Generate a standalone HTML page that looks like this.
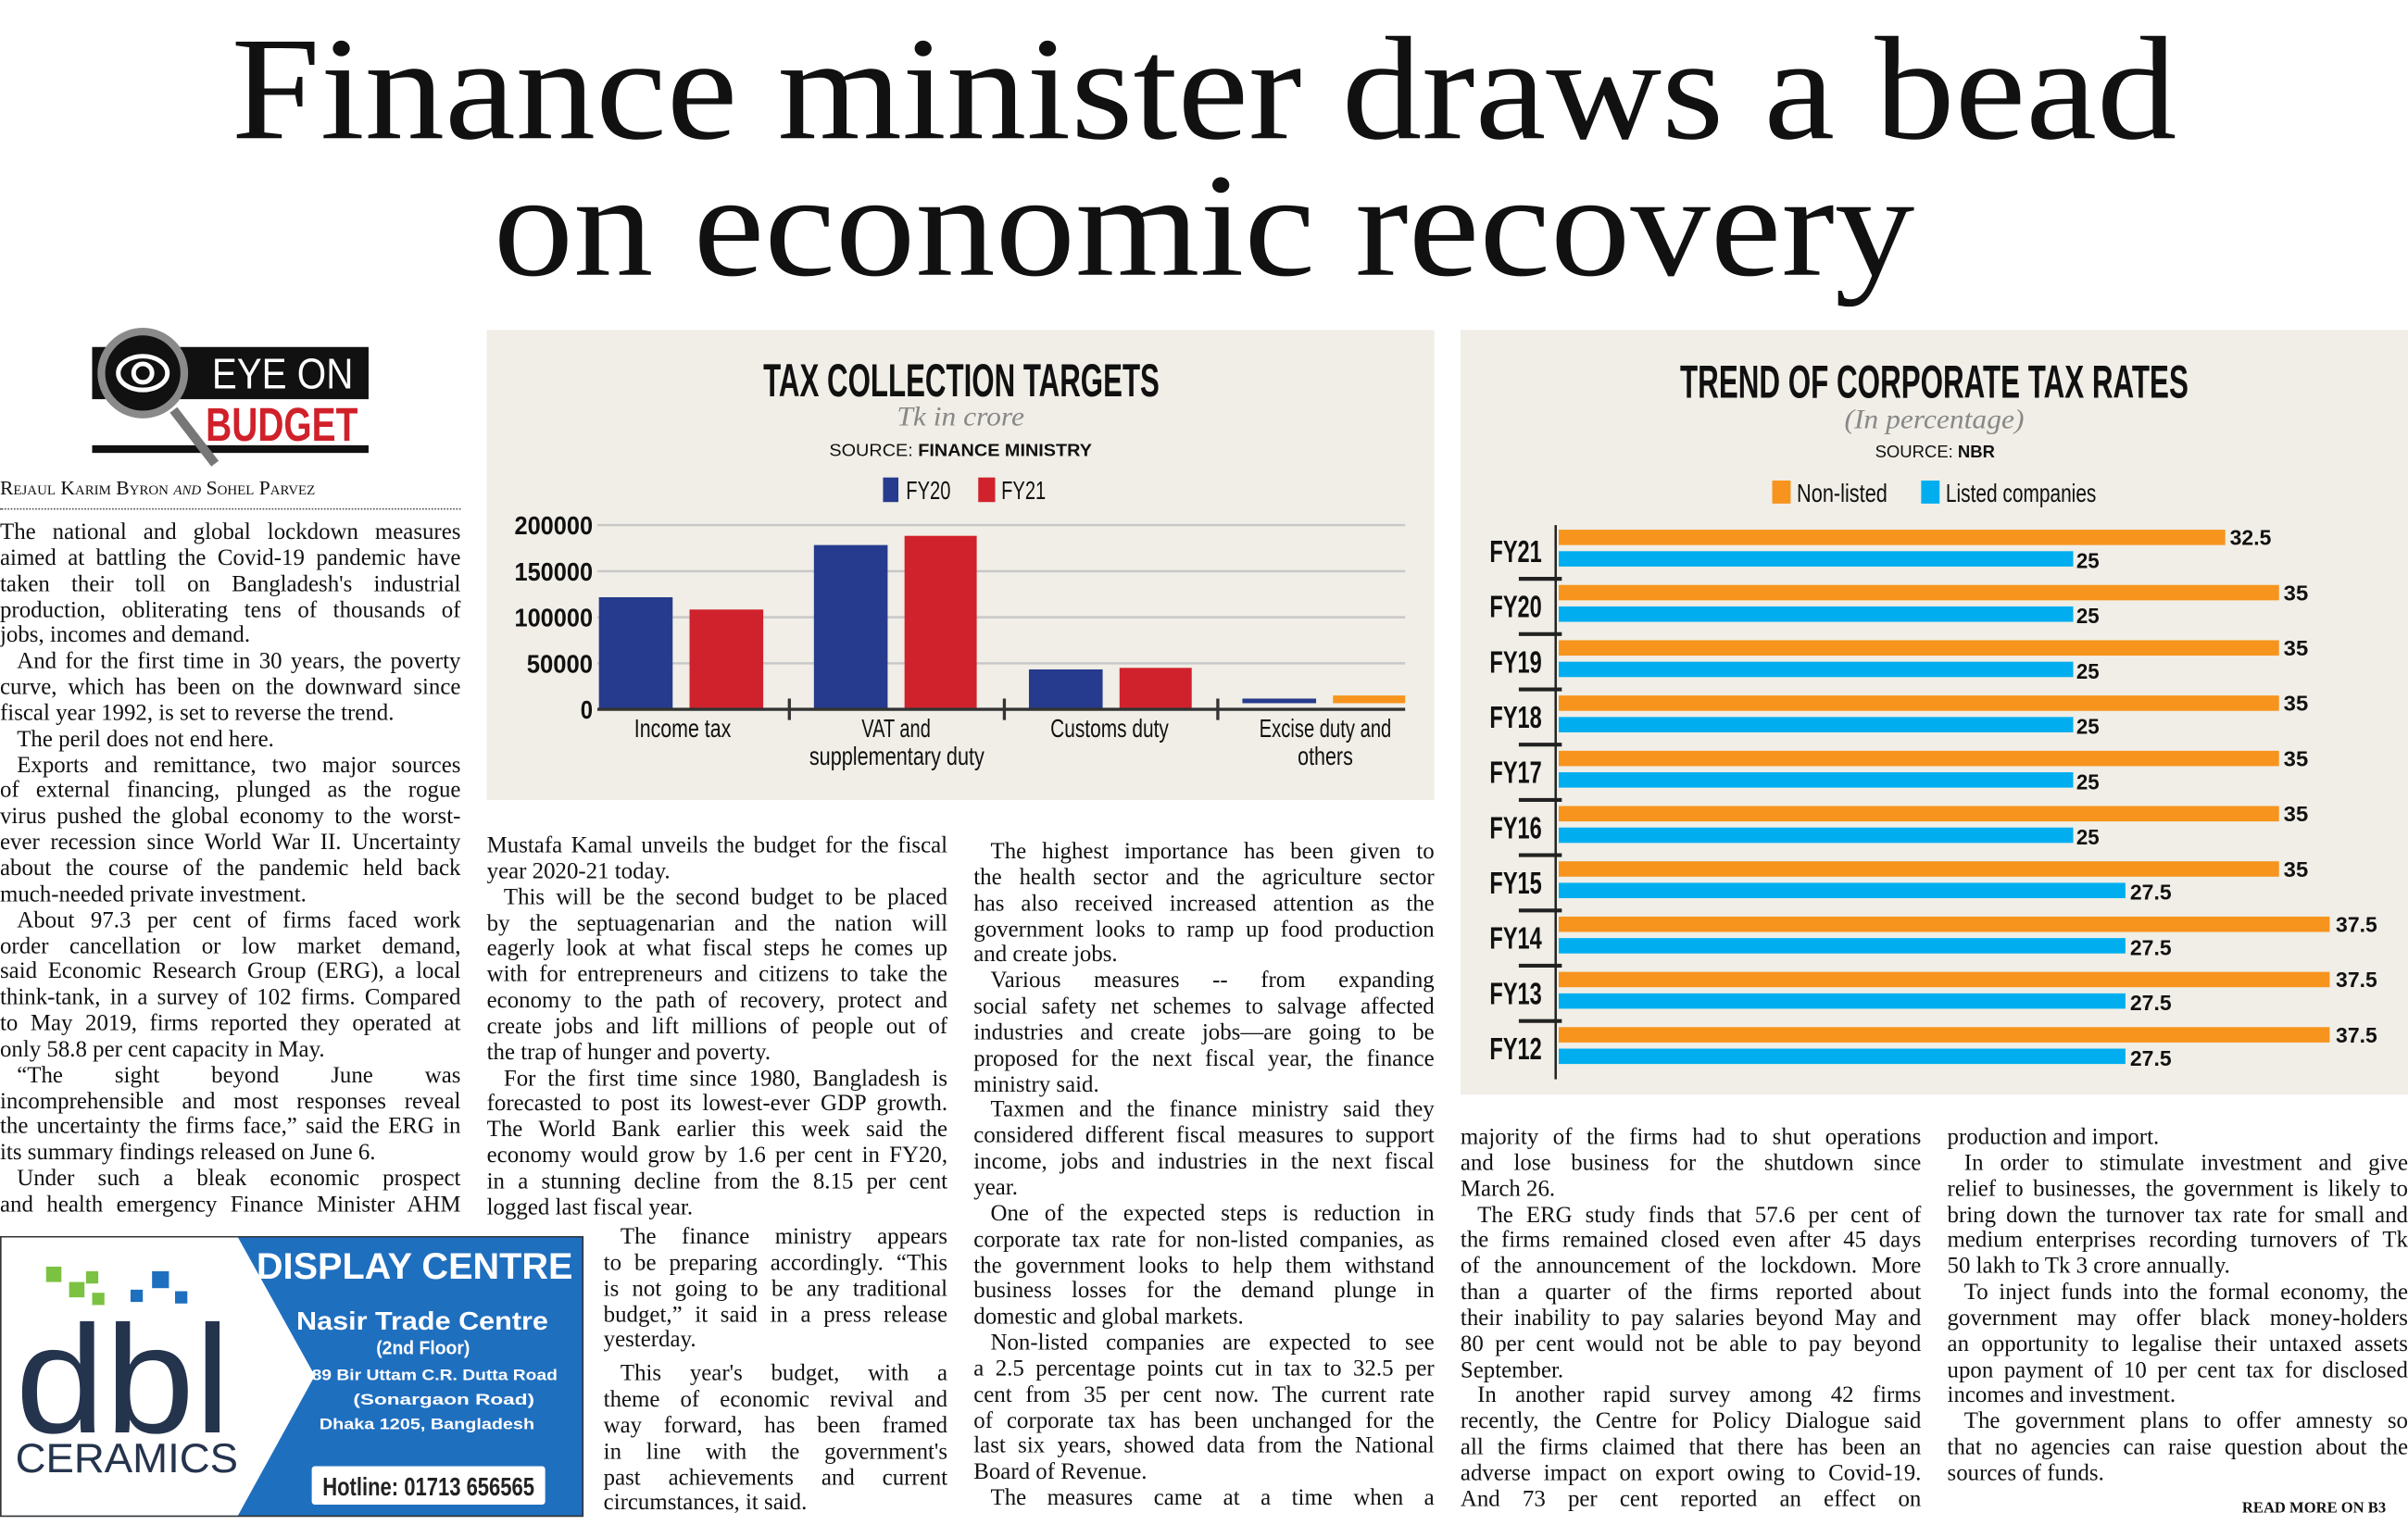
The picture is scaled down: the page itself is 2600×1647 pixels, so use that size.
<!DOCTYPE html>
<html><head><meta charset="utf-8"><style>
html,body{margin:0;padding:0;background:#fff;width:2600px;height:1647px;overflow:hidden}
#w{position:absolute;left:0;top:0;width:1568px;height:993px;transform:scale(1.65816);transform-origin:0 0;font-family:"Liberation Serif",serif;color:#111}
.a{position:absolute}
.hl{position:absolute;left:0;width:1568px;text-align:center;font-family:"Liberation Serif",serif;font-size:96px;line-height:96px;white-space:nowrap;transform:scaleX(1.085);transform-origin:784px 0}
.col{position:absolute;font-size:15px}
.col div{height:16.85px;line-height:16.85px;text-align:justify;text-align-last:justify;overflow:hidden;white-space:normal}
.col div.l{text-align-last:left}
.col div.i{padding-left:11px}
.panel{position:absolute;background:#f0eee6}
svg text{font-family:"Liberation Sans",sans-serif}
</style></head><body><div id="w">
<div class="hl" style="top:10px">Finance minister draws a bead</div>
<div class="hl" style="top:99px">on economic recovery</div>

<!-- logo -->
<svg class="a" style="left:55px;top:210px" width="200" height="95">
<rect x="5" y="16" width="180" height="34" fill="#111"/>
<rect x="5" y="80" width="180" height="5" fill="#111"/>
<text x="83" y="43" font-size="28" fill="#fff" textLength="92" lengthAdjust="spacingAndGlyphs">EYE ON</text>
<text x="79" y="77" font-size="31" font-weight="bold" fill="#d0202a" textLength="99" lengthAdjust="spacingAndGlyphs">BUDGET</text>
<line x1="58" y1="57" x2="85" y2="92" stroke="#777" stroke-width="6"/>
<circle cx="38" cy="33" r="27" fill="#111" stroke="#8a8a8a" stroke-width="5"/>
<ellipse cx="38" cy="33" rx="16" ry="11" fill="none" stroke="#fff" stroke-width="3"/>
<circle cx="38" cy="33" r="6" fill="none" stroke="#fff" stroke-width="3"/>
</svg>

<div class="a" style="left:0;top:310px;font-size:13px;font-variant:small-caps;white-space:nowrap">Rejaul Karim Byron <i>and</i> Sohel Parvez</div>
<div class="a" style="left:0;top:331px;width:300px;border-top:1.5px dotted #555"></div>

<div class="col" style="left:0;top:339px;width:300px">
<div>The national and global lockdown measures</div>
<div>aimed at battling the Covid-19 pandemic have</div>
<div>taken their toll on Bangladesh's industrial</div>
<div>production, obliterating tens of thousands of</div>
<div class="l">jobs, incomes and demand.</div>
<div class="i">And for the first time in 30 years, the poverty</div>
<div>curve, which has been on the downward since</div>
<div class="l">fiscal year 1992, is set to reverse the trend.</div>
<div class="i l">The peril does not end here.</div>
<div class="i">Exports and remittance, two major sources</div>
<div>of external financing, plunged as the rogue</div>
<div>virus pushed the global economy to the worst-</div>
<div>ever recession since World War II. Uncertainty</div>
<div>about the course of the pandemic held back</div>
<div class="l">much-needed private investment.</div>
<div class="i">About 97.3 per cent of firms faced work</div>
<div>order cancellation or low market demand,</div>
<div>said Economic Research Group (ERG), a local</div>
<div>think-tank, in a survey of 102 firms. Compared</div>
<div>to May 2019, firms reported they operated at</div>
<div class="l">only 58.8 per cent capacity in May.</div>
<div class="i">“The sight beyond June was</div>
<div>incomprehensible and most responses reveal</div>
<div>the uncertainty the firms face,” said the ERG in</div>
<div class="l">its summary findings released on June 6.</div>
<div class="i">Under such a bleak economic prospect</div>
<div>and health emergency Finance Minister AHM</div>
</div>

<!-- ad -->
<svg class="a" style="left:0;top:805px" width="381" height="184">
<rect x="0.5" y="0.5" width="379" height="182" fill="#1f6fbf" stroke="#333"/>
<polygon points="1,1 155,1 205,91 155,182 1,182" fill="#fff"/>
<rect x="30" y="20" width="10" height="10" fill="#7cc242"/><rect x="45" y="30" width="10" height="10" fill="#7cc242"/>
<rect x="56" y="23" width="8" height="8" fill="#7cc242"/><rect x="60" y="37" width="8" height="8" fill="#7cc242"/>
<rect x="85" y="35" width="8" height="8" fill="#1f6fbf"/><rect x="99" y="23" width="11" height="11" fill="#1f6fbf"/><rect x="114" y="36" width="8" height="8" fill="#1f6fbf"/>
<text x="10" y="128" font-size="100" fill="#25344d" textLength="140" lengthAdjust="spacingAndGlyphs">dbl</text>
<text x="10" y="154" font-size="27" fill="#25344d" textLength="145" lengthAdjust="spacingAndGlyphs">CERAMICS</text>
<text x="167" y="28" font-size="24" font-weight="bold" fill="#fff" textLength="206" lengthAdjust="spacingAndGlyphs">DISPLAY CENTRE</text>
<text x="193" y="61" font-size="17" font-weight="bold" fill="#fff" textLength="164" lengthAdjust="spacingAndGlyphs">Nasir Trade Centre</text>
<text x="245" y="77" font-size="12" font-weight="bold" fill="#fff" textLength="61" lengthAdjust="spacingAndGlyphs">(2nd Floor)</text>
<text x="203" y="94" font-size="10" font-weight="bold" fill="#fff" textLength="160" lengthAdjust="spacingAndGlyphs">89 Bir Uttam C.R. Dutta Road</text>
<text x="230" y="110" font-size="10" font-weight="bold" fill="#fff" textLength="118" lengthAdjust="spacingAndGlyphs">(Sonargaon Road)</text>
<text x="208" y="126" font-size="10" font-weight="bold" fill="#fff" textLength="140" lengthAdjust="spacingAndGlyphs">Dhaka 1205, Bangladesh</text>
<rect x="203" y="150" width="152" height="25" rx="2" fill="#fff"/>
<text x="210" y="169" font-size="17" font-weight="bold" fill="#222" textLength="138" lengthAdjust="spacingAndGlyphs">Hotline: 01713 656565</text>
</svg>

<!-- chart 1 -->
<div class="panel" style="left:317px;top:215px;width:617px;height:306px"></div>
<svg class="a" style="left:317px;top:215px" width="617" height="306">
<text x="180" y="43" font-size="30" font-weight="bold" fill="#111" textLength="258" lengthAdjust="spacingAndGlyphs">TAX COLLECTION TARGETS</text>
<text x="267" y="62" font-size="18" font-style="italic" fill="#888" style="font-family:'Liberation Serif',serif" textLength="83" lengthAdjust="spacingAndGlyphs">Tk in crore</text>
<text x="223" y="82" font-size="11" fill="#111" textLength="171" lengthAdjust="spacingAndGlyphs">SOURCE: <tspan font-weight="bold">FINANCE MINISTRY</tspan></text>
<rect x="258" y="96" width="10" height="16" fill="#263b8e"/>
<text x="273" y="110" font-size="17" fill="#111" textLength="29" lengthAdjust="spacingAndGlyphs">FY20</text>
<rect x="320" y="96" width="11" height="16" fill="#d0222d"/>
<text x="335" y="110" font-size="17" fill="#111" textLength="29" lengthAdjust="spacingAndGlyphs">FY21</text>
<g stroke="#c8c8c8" stroke-width="1.5"><line x1="72" x2="598" y1="127" y2="127"/><line x1="72" x2="598" y1="157" y2="157"/><line x1="72" x2="598" y1="187" y2="187"/><line x1="72" x2="598" y1="217" y2="217"/></g>
<g font-weight="bold" font-size="17" fill="#111">
<text x="18" y="133" textLength="51" lengthAdjust="spacingAndGlyphs">200000</text>
<text x="18" y="163" textLength="51" lengthAdjust="spacingAndGlyphs">150000</text>
<text x="18" y="193" textLength="51" lengthAdjust="spacingAndGlyphs">100000</text>
<text x="26" y="223" textLength="43" lengthAdjust="spacingAndGlyphs">50000</text>
<text x="61" y="253" textLength="8" lengthAdjust="spacingAndGlyphs">0</text></g>
<rect x="73" y="174" width="48" height="73" fill="#263b8e"/><rect x="132" y="182" width="48" height="65" fill="#d0222d"/>
<rect x="213" y="140" width="48" height="107" fill="#263b8e"/><rect x="272" y="134" width="47" height="113" fill="#d0222d"/>
<rect x="353" y="221" width="48" height="26" fill="#263b8e"/><rect x="412" y="220" width="47" height="27" fill="#d0222d"/>
<rect x="492" y="240" width="48" height="3" fill="#263b8e"/><rect x="551" y="238" width="47" height="5" fill="#f7941d"/>
<line x1="72" x2="598" y1="247" y2="247" stroke="#333" stroke-width="2"/>
<g stroke="#333" stroke-width="2"><line x1="197" x2="197" y1="240" y2="254"/><line x1="337" x2="337" y1="240" y2="254"/><line x1="476" x2="476" y1="240" y2="254"/></g>
<g font-size="17" fill="#111">
<text x="96" y="265" textLength="63" lengthAdjust="spacingAndGlyphs">Income tax</text>
<text x="244" y="265" textLength="45" lengthAdjust="spacingAndGlyphs">VAT and</text>
<text x="210" y="283" textLength="114" lengthAdjust="spacingAndGlyphs">supplementary duty</text>
<text x="367" y="265" textLength="77" lengthAdjust="spacingAndGlyphs">Customs duty</text>
<text x="503" y="265" textLength="86" lengthAdjust="spacingAndGlyphs">Excise duty and</text>
<text x="528" y="283" textLength="36" lengthAdjust="spacingAndGlyphs">others</text></g>
</svg>

<!-- chart 2 -->
<div class="panel" style="left:951px;top:215px;width:617px;height:498px"></div>
<svg class="a" style="left:951px;top:215px" width="617" height="498">
<text x="143" y="44" font-size="30" font-weight="bold" fill="#111" textLength="331" lengthAdjust="spacingAndGlyphs">TREND OF CORPORATE TAX RATES</text>
<text x="250" y="64" font-size="18" font-style="italic" fill="#888" style="font-family:'Liberation Serif',serif" textLength="117" lengthAdjust="spacingAndGlyphs">(In percentage)</text>
<text x="270" y="83" font-size="11" fill="#111" textLength="78" lengthAdjust="spacingAndGlyphs">SOURCE: <tspan font-weight="bold">NBR</tspan></text>
<rect x="203" y="98" width="12" height="15" fill="#f7941d"/>
<text x="219" y="112" font-size="17" fill="#111" textLength="59" lengthAdjust="spacingAndGlyphs">Non-listed</text>
<rect x="300" y="98" width="12" height="15" fill="#00aeef"/>
<text x="316" y="112" font-size="17" fill="#111" textLength="98" lengthAdjust="spacingAndGlyphs">Listed companies</text>
<line x1="62" x2="62" y1="127" y2="488" stroke="#222" stroke-width="1.5"/>
<g font-weight="bold" font-size="14" fill="#111">
<rect x="64" y="130" width="434" height="10" fill="#f7941d"/><rect x="64" y="144" width="335" height="10" fill="#00aeef"/><text x="501" y="140" textLength="27" lengthAdjust="spacingAndGlyphs">32.5</text><text x="401" y="155" textLength="15" lengthAdjust="spacingAndGlyphs">25</text>
<rect x="64" y="166" width="469" height="10" fill="#f7941d"/><rect x="64" y="180" width="335" height="10" fill="#00aeef"/><text x="536" y="176" textLength="16" lengthAdjust="spacingAndGlyphs">35</text><text x="401" y="191" textLength="15" lengthAdjust="spacingAndGlyphs">25</text>
<rect x="64" y="202" width="469" height="10" fill="#f7941d"/><rect x="64" y="216" width="335" height="10" fill="#00aeef"/><text x="536" y="212" textLength="16" lengthAdjust="spacingAndGlyphs">35</text><text x="401" y="227" textLength="15" lengthAdjust="spacingAndGlyphs">25</text>
<rect x="64" y="238" width="469" height="10" fill="#f7941d"/><rect x="64" y="252" width="335" height="10" fill="#00aeef"/><text x="536" y="248" textLength="16" lengthAdjust="spacingAndGlyphs">35</text><text x="401" y="263" textLength="15" lengthAdjust="spacingAndGlyphs">25</text>
<rect x="64" y="274" width="469" height="10" fill="#f7941d"/><rect x="64" y="288" width="335" height="10" fill="#00aeef"/><text x="536" y="284" textLength="16" lengthAdjust="spacingAndGlyphs">35</text><text x="401" y="299" textLength="15" lengthAdjust="spacingAndGlyphs">25</text>
<rect x="64" y="310" width="469" height="10" fill="#f7941d"/><rect x="64" y="324" width="335" height="10" fill="#00aeef"/><text x="536" y="320" textLength="16" lengthAdjust="spacingAndGlyphs">35</text><text x="401" y="335" textLength="15" lengthAdjust="spacingAndGlyphs">25</text>
<rect x="64" y="346" width="469" height="10" fill="#f7941d"/><rect x="64" y="360" width="369" height="10" fill="#00aeef"/><text x="536" y="356" textLength="16" lengthAdjust="spacingAndGlyphs">35</text><text x="436" y="371" textLength="27" lengthAdjust="spacingAndGlyphs">27.5</text>
<rect x="64" y="382" width="502" height="10" fill="#f7941d"/><rect x="64" y="396" width="369" height="10" fill="#00aeef"/><text x="570" y="392" textLength="27" lengthAdjust="spacingAndGlyphs">37.5</text><text x="436" y="407" textLength="27" lengthAdjust="spacingAndGlyphs">27.5</text>
<rect x="64" y="418" width="502" height="10" fill="#f7941d"/><rect x="64" y="432" width="369" height="10" fill="#00aeef"/><text x="570" y="428" textLength="27" lengthAdjust="spacingAndGlyphs">37.5</text><text x="436" y="443" textLength="27" lengthAdjust="spacingAndGlyphs">27.5</text>
<rect x="64" y="454" width="502" height="10" fill="#f7941d"/><rect x="64" y="468" width="369" height="10" fill="#00aeef"/><text x="570" y="464" textLength="27" lengthAdjust="spacingAndGlyphs">37.5</text><text x="436" y="479" textLength="27" lengthAdjust="spacingAndGlyphs">27.5</text>
</g>
<g stroke="#222" stroke-width="2.5"><line x1="38" x2="66" y1="162" y2="162"/><line x1="38" x2="66" y1="198" y2="198"/><line x1="38" x2="66" y1="234" y2="234"/><line x1="38" x2="66" y1="270" y2="270"/><line x1="38" x2="66" y1="306" y2="306"/><line x1="38" x2="66" y1="342" y2="342"/><line x1="38" x2="66" y1="378" y2="378"/><line x1="38" x2="66" y1="414" y2="414"/><line x1="38" x2="66" y1="450" y2="450"/></g>
<g font-weight="bold" font-size="20" fill="#111">
<text x="19" y="151" textLength="34" lengthAdjust="spacingAndGlyphs">FY21</text><text x="19" y="187" textLength="34" lengthAdjust="spacingAndGlyphs">FY20</text><text x="19" y="223" textLength="34" lengthAdjust="spacingAndGlyphs">FY19</text><text x="19" y="259" textLength="34" lengthAdjust="spacingAndGlyphs">FY18</text><text x="19" y="295" textLength="34" lengthAdjust="spacingAndGlyphs">FY17</text><text x="19" y="331" textLength="34" lengthAdjust="spacingAndGlyphs">FY16</text><text x="19" y="367" textLength="34" lengthAdjust="spacingAndGlyphs">FY15</text><text x="19" y="403" textLength="34" lengthAdjust="spacingAndGlyphs">FY14</text><text x="19" y="439" textLength="34" lengthAdjust="spacingAndGlyphs">FY13</text><text x="19" y="475" textLength="34" lengthAdjust="spacingAndGlyphs">FY12</text></g>
</svg>

<!-- middle col 1 -->
<div class="col" style="left:317px;top:543px;width:300px">
<div>Mustafa Kamal unveils the budget for the fiscal</div>
<div class="l">year 2020-21 today.</div>
<div class="i">This will be the second budget to be placed</div>
<div>by the septuagenarian and the nation will</div>
<div>eagerly look at what fiscal steps he comes up</div>
<div>with for entrepreneurs and citizens to take the</div>
<div>economy to the path of recovery, protect and</div>
<div>create jobs and lift millions of people out of</div>
<div class="l">the trap of hunger and poverty.</div>
<div class="i">For the first time since 1980, Bangladesh is</div>
<div>forecasted to post its lowest-ever GDP growth.</div>
<div>The World Bank earlier this week said the</div>
<div>economy would grow by 1.6 per cent in FY20,</div>
<div>in a stunning decline from the 8.15 per cent</div>
<div class="l">logged last fiscal year.</div>
</div>
<div class="col" style="left:393px;top:798px;width:224px">
<div class="i">The finance ministry appears</div>
<div>to be preparing accordingly. “This</div>
<div>is not going to be any traditional</div>
<div>budget,” it said in a press release</div>
<div class="l">yesterday.</div>
<div class="i" style="margin-top:5px">This year's budget, with a</div>
<div>theme of economic revival and</div>
<div>way forward, has been framed</div>
<div>in line with the government's</div>
<div>past achievements and current</div>
<div class="l">circumstances, it said.</div>
</div>

<div class="col" style="left:634px;top:547px;width:300px">
<div class="i">The highest importance has been given to</div>
<div>the health sector and the agriculture sector</div>
<div>has also received increased attention as the</div>
<div>government looks to ramp up food production</div>
<div class="l">and create jobs.</div>
<div class="i">Various measures -- from expanding</div>
<div>social safety net schemes to salvage affected</div>
<div>industries and create jobs—are going to be</div>
<div>proposed for the next fiscal year, the finance</div>
<div class="l">ministry said.</div>
<div class="i">Taxmen and the finance ministry said they</div>
<div>considered different fiscal measures to support</div>
<div>income, jobs and industries in the next fiscal</div>
<div class="l">year.</div>
<div class="i">One of the expected steps is reduction in</div>
<div>corporate tax rate for non-listed companies, as</div>
<div>the government looks to help them withstand</div>
<div>business losses for the demand plunge in</div>
<div class="l">domestic and global markets.</div>
<div class="i">Non-listed companies are expected to see</div>
<div>a 2.5 percentage points cut in tax to 32.5 per</div>
<div>cent from 35 per cent now. The current rate</div>
<div>of corporate tax has been unchanged for the</div>
<div>last six years, showed data from the National</div>
<div class="l">Board of Revenue.</div>
<div class="i">The measures came at a time when a</div>
</div>

<div class="col" style="left:951px;top:733px;width:300px">
<div>majority of the firms had to shut operations</div>
<div>and lose business for the shutdown since</div>
<div class="l">March 26.</div>
<div class="i">The ERG study finds that 57.6 per cent of</div>
<div>the firms remained closed even after 45 days</div>
<div>of the announcement of the lockdown. More</div>
<div>than a quarter of the firms reported about</div>
<div>their inability to pay salaries beyond May and</div>
<div>80 per cent would not be able to pay beyond</div>
<div class="l">September.</div>
<div class="i">In another rapid survey among 42 firms</div>
<div>recently, the Centre for Policy Dialogue said</div>
<div>all the firms claimed that there has been an</div>
<div>adverse impact on export owing to Covid-19.</div>
<div>And 73 per cent reported an effect on</div>
</div>

<div class="col" style="left:1268px;top:733px;width:300px">
<div class="l">production and import.</div>
<div class="i">In order to stimulate investment and give</div>
<div>relief to businesses, the government is likely to</div>
<div>bring down the turnover tax rate for small and</div>
<div>medium enterprises recording turnovers of Tk</div>
<div class="l">50 lakh to Tk 3 crore annually.</div>
<div class="i">To inject funds into the formal economy, the</div>
<div>government may offer black money-holders</div>
<div>an opportunity to legalise their untaxed assets</div>
<div>upon payment of 10 per cent tax for disclosed</div>
<div class="l">incomes and investment.</div>
<div class="i">The government plans to offer amnesty so</div>
<div>that no agencies can raise question about the</div>
<div class="l">sources of funds.</div>
</div>
<div class="a" style="left:1460px;top:977px;font-size:10px;font-weight:bold;white-space:nowrap">READ MORE ON B3</div>
</div></body></html>
